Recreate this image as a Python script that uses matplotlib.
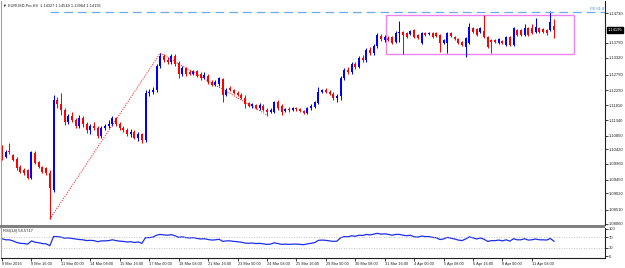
import matplotlib
matplotlib.use("Agg")
import matplotlib.pyplot as plt
from matplotlib.patches import Rectangle

# EURUSD H4 candles, 8 Mar 2016 08:00 .. 12 Apr 2016
opens = [1.1049, 1.1018, 1.1037, 1.1024, 1.1011, 1.0986, 1.0976, 1.0976, 1.0951, 1.1030,
         1.1002, 1.0986, 1.0983, 1.0967, 1.0913, 1.1198, 1.1186, 1.1167, 1.1129, 1.1148,
         1.1135, 1.1116, 1.1141, 1.1122, 1.1103, 1.1116, 1.1110, 1.1084, 1.1110, 1.1116,
         1.1122, 1.1141, 1.1122, 1.1110, 1.1103, 1.1091, 1.1097, 1.1078, 1.1091, 1.1072,
         1.1221, 1.1224, 1.1230, 1.1306, 1.1338, 1.1325, 1.1319, 1.1338, 1.1316, 1.1281,
         1.1300, 1.1287, 1.1281, 1.1290, 1.1281, 1.1268, 1.1274, 1.1255, 1.1246, 1.1249,
         1.1265, 1.1214, 1.1236, 1.1230, 1.1221, 1.1214, 1.1205, 1.1189, 1.1179, 1.1183,
         1.1173, 1.1179, 1.1167, 1.1160, 1.1160, 1.1192, 1.1179, 1.1164, 1.1170, 1.1167,
         1.1173, 1.1170, 1.1164, 1.1157, 1.1173, 1.1176, 1.1189, 1.1224, 1.1230, 1.1224,
         1.1217, 1.1205, 1.1211, 1.1268, 1.1293, 1.1287, 1.1313, 1.1303, 1.1332, 1.1325,
         1.1357, 1.1347, 1.1370, 1.1401, 1.1389, 1.1395, 1.1398, 1.1382, 1.1411, 1.1414,
         1.1411, 1.1408, 1.1420, 1.1404, 1.1379, 1.1411, 1.1408, 1.1411, 1.1411, 1.1404,
         1.1379, 1.1379, 1.1411, 1.1398, 1.1392, 1.1382, 1.1366, 1.1379, 1.1427, 1.1423,
         1.1414, 1.1417, 1.1398, 1.1389, 1.1389, 1.1379, 1.1385, 1.1373, 1.1398, 1.1373,
         1.1420, 1.1420, 1.1404, 1.1427, 1.1427, 1.1414, 1.1427, 1.1423, 1.1420, 1.1420,
         1.14327]
highs = [1.1056, 1.1040, 1.1062, 1.1027, 1.1018, 1.0992, 1.0983, 1.0980, 1.1037, 1.1037,
         1.1005, 1.0989, 1.0986, 1.0976, 1.1214, 1.1208, 1.1221, 1.1173, 1.1154, 1.1160,
         1.1141, 1.1151, 1.1148, 1.1129, 1.1122, 1.1129, 1.1116, 1.1116, 1.1122, 1.1135,
         1.1148, 1.1145, 1.1129, 1.1116, 1.1110, 1.1107, 1.1103, 1.1097, 1.1094, 1.1230,
         1.1233, 1.1240, 1.1313, 1.1347, 1.1344, 1.1335, 1.1344, 1.1344, 1.1322, 1.1306,
         1.1303, 1.1293, 1.1293, 1.1293, 1.1287, 1.1287, 1.1281, 1.1262, 1.1262, 1.1271,
         1.1268, 1.1236, 1.1243, 1.1233, 1.1227, 1.1221, 1.1214, 1.1192, 1.1189, 1.1186,
         1.1189, 1.1186, 1.1173, 1.1173, 1.1195, 1.1198, 1.1186, 1.1173, 1.1176, 1.1176,
         1.1176, 1.1173, 1.1167, 1.1176, 1.1186, 1.1195, 1.1240, 1.1233, 1.1236, 1.1230,
         1.1224, 1.1217, 1.1274, 1.1300, 1.1303, 1.1319, 1.1319, 1.1338, 1.1341, 1.1363,
         1.1366, 1.1376, 1.1411, 1.1408, 1.1404, 1.1401, 1.1401, 1.1417, 1.1449, 1.1417,
         1.1414, 1.1420, 1.1423, 1.1408, 1.1414, 1.1414, 1.1414, 1.1414, 1.1414, 1.1408,
         1.1392, 1.1414, 1.1414, 1.1401, 1.1395, 1.1385, 1.1398, 1.1442, 1.1430, 1.1427,
         1.1430, 1.1468, 1.1401, 1.1392, 1.1392, 1.1395, 1.1389, 1.1401, 1.1401, 1.1430,
         1.1423, 1.1423, 1.1439, 1.1430, 1.1439, 1.1458, 1.1430, 1.1427, 1.1423, 1.1480,
         1.14549]
lows = [1.1008, 1.1014, 1.1027, 1.1005, 1.0976, 1.0967, 1.0961, 1.0948, 1.0948, 1.0996,
        1.0983, 1.0967, 1.0961, 1.0821, 1.0907, 1.1173, 1.1151, 1.1119, 1.1122, 1.1129,
        1.1110, 1.1110, 1.1113, 1.1094, 1.1091, 1.1103, 1.1078, 1.1078, 1.1103, 1.1110,
        1.1116, 1.1116, 1.1103, 1.1097, 1.1084, 1.1081, 1.1075, 1.1068, 1.1062, 1.1065,
        1.1211, 1.1217, 1.1224, 1.1300, 1.1319, 1.1313, 1.1313, 1.1306, 1.1268, 1.1274,
        1.1274, 1.1278, 1.1278, 1.1271, 1.1262, 1.1265, 1.1249, 1.1243, 1.1243, 1.1243,
        1.1192, 1.1211, 1.1227, 1.1217, 1.1211, 1.1202, 1.1173, 1.1176, 1.1173, 1.1170,
        1.1167, 1.1164, 1.1148, 1.1157, 1.1157, 1.1167, 1.1151, 1.1160, 1.1160, 1.1164,
        1.1164, 1.1160, 1.1154, 1.1154, 1.1167, 1.1173, 1.1186, 1.1221, 1.1221, 1.1214,
        1.1198, 1.1192, 1.1198, 1.1262, 1.1281, 1.1281, 1.1297, 1.1300, 1.1319, 1.1319,
        1.1341, 1.1341, 1.1363, 1.1385, 1.1382, 1.1385, 1.1376, 1.1379, 1.1382, 1.1344,
        1.1395, 1.1404, 1.1395, 1.1392, 1.1376, 1.1401, 1.1404, 1.1395, 1.1398, 1.1350,
        1.1376, 1.1347, 1.1398, 1.1389, 1.1376, 1.1370, 1.1335, 1.1376, 1.1411, 1.1401,
        1.1411, 1.1395, 1.1363, 1.1347, 1.1379, 1.1376, 1.1376, 1.1370, 1.1370, 1.1370,
        1.1401, 1.1401, 1.1401, 1.1401, 1.1408, 1.1411, 1.1411, 1.1411, 1.1404, 1.1417,
        1.13964]
closes = [1.1014, 1.1034, 1.1034, 1.1008, 1.0983, 1.0970, 1.0967, 1.0951, 1.1034, 1.0999,
          1.0986, 1.0970, 1.0967, 1.0919, 1.1198, 1.1186, 1.1167, 1.1129, 1.1148, 1.1135,
          1.1116, 1.1141, 1.1122, 1.1103, 1.1116, 1.1110, 1.1084, 1.1110, 1.1116, 1.1122,
          1.1141, 1.1122, 1.1110, 1.1103, 1.1091, 1.1097, 1.1078, 1.1091, 1.1072, 1.1221,
          1.1224, 1.1230, 1.1306, 1.1338, 1.1325, 1.1319, 1.1338, 1.1313, 1.1281, 1.1300,
          1.1281, 1.1281, 1.1290, 1.1274, 1.1268, 1.1278, 1.1255, 1.1246, 1.1255, 1.1268,
          1.1214, 1.1230, 1.1230, 1.1221, 1.1214, 1.1205, 1.1186, 1.1179, 1.1186, 1.1173,
          1.1183, 1.1167, 1.1160, 1.1167, 1.1192, 1.1173, 1.1160, 1.1170, 1.1167, 1.1173,
          1.1170, 1.1164, 1.1157, 1.1173, 1.1179, 1.1192, 1.1224, 1.1230, 1.1224, 1.1217,
          1.1205, 1.1211, 1.1268, 1.1293, 1.1287, 1.1313, 1.1303, 1.1332, 1.1325, 1.1357,
          1.1347, 1.1370, 1.1404, 1.1392, 1.1398, 1.1389, 1.1379, 1.1411, 1.1414, 1.1404,
          1.1398, 1.1417, 1.1398, 1.1395, 1.1411, 1.1404, 1.1411, 1.1398, 1.1401, 1.1379,
          1.1389, 1.1411, 1.1401, 1.1392, 1.1379, 1.1373, 1.1395, 1.1430, 1.1414, 1.1404,
          1.1427, 1.1398, 1.1366, 1.1382, 1.1382, 1.1392, 1.1379, 1.1398, 1.1373, 1.1427,
          1.1404, 1.1404, 1.1427, 1.1404, 1.1411, 1.1430, 1.1414, 1.1414, 1.1411, 1.1446,
          1.14195]

rsi = [64, 60, 60, 56, 50, 47, 46, 44, 56, 51,
       49, 46, 45, 38, 72, 72, 70, 66, 67, 65,
       63, 61, 60, 57, 58, 57, 53, 56, 56, 57,
       60, 57, 55, 54, 52, 53, 50, 52, 47, 68,
       68, 70, 77, 80, 78, 77, 79, 75, 69, 71,
       68, 67, 68, 65, 63, 64, 61, 59, 60, 62,
       54, 56, 56, 54, 53, 51, 48, 47, 48, 46,
       47, 45, 43, 44, 49, 46, 43, 44, 43, 44,
       44, 43, 42, 45, 47, 50, 58, 59, 58, 56,
       54, 55, 67, 72, 71, 75, 73, 77, 76, 80,
       78, 81, 84, 81, 82, 80, 77, 80, 80, 77,
       75, 77, 71, 70, 74, 72, 72, 69, 68, 61,
       63, 69, 66, 63, 59, 57, 63, 71, 67, 63,
       67, 62, 54, 57, 57, 59, 56, 60, 55, 64,
       60, 60, 64, 59, 60, 63, 60, 60, 59, 65,
       54.5717]

price_ticks = [1.1473, 1.1379, 1.1332, 1.1279, 1.1229, 1.1181, 1.1134, 1.1085,
               1.1042, 1.0996, 1.0945, 1.0902, 1.0851, 1.0806]
price_labels = ["1.14730", "1.13790", "1.13320", "1.12790", "1.12290", "1.11810", "1.11340",
                "1.10850", "1.10420", "1.09960", "1.09450", "1.09020", "1.08510", "1.08060"]
time_labels = ["8 Mar 2016", "9 Mar 16:00", "11 Mar 00:00", "14 Mar 08:00", "15 Mar 16:00",
               "17 Mar 00:00", "18 Mar 08:00", "21 Mar 16:00", "23 Mar 00:00", "24 Mar 08:00",
               "25 Mar 16:00", "29 Mar 00:00", "30 Mar 08:00", "31 Mar 16:00", "4 Apr 00:00",
               "5 Apr 08:00", "6 Apr 16:00", "8 Apr 00:00", "11 Apr 08:00"]

# fibo expansion points (bar, price) and 61.8 level, range box
fibo_bars = [13, 43, 72]
fibo_prices = [1.0821, 1.1347, 1.1151]
fe_level = 1.1478
box_bars = (104.3, 155.4)
box_prices = (1.13441, 1.14678)

W, H = 625, 268
fig = plt.figure(figsize=(W / 100, H / 100), dpi=100)
plt.rcParams['font.family'] = ['Liberation Sans', 'DejaVu Sans']
fs = 3.0


def area(x0, y0, x1, y1):
    return [x0 / W, 1 - y1 / H, (x1 - x0) / W, (y1 - y0) / H]


ax = fig.add_axes(area(1, 1, 605, 225))
ax2 = fig.add_axes(area(1, 228, 605, 258))

step, first = 3.68, 2.0
for a in (ax, ax2):
    a.set_xlim((1 - first) / step, (605 - first) / step)
    a.spines['top'].set_visible(False)
    a.spines['left'].set_color('#a0a0a0')
    a.spines['right'].set_color('#202020')
    for s in ('left', 'right', 'bottom'):
        a.spines[s].set_linewidth(0.8)
ax.spines['bottom'].set_visible(False)
ax2.spines['bottom'].set_color('#202020')

ax.set_ylim(1.080206, 1.151214)
ax2.set_ylim(-7.4, 103.7)

n = len(closes)
idx = list(range(n))
cols = ['#0000ff' if c >= o else '#ff0000' for o, c in zip(opens, closes)]
ax.vlines(idx, lows, highs, colors=cols, linewidth=0.75)
heights = [max(abs(c - o), 0.00008) for o, c in zip(opens, closes)]
bottoms = [min(o, c) for o, c in zip(opens, closes)]
ax.bar(idx, heights, bottom=bottoms, width=0.55, color=cols, linewidth=0)

ax.plot(fibo_bars, fibo_prices, color='#ff0000', linestyle=(0, (1, 1.5)), linewidth=0.7)
ax.hlines(fe_level, fibo_bars[0], (605 - first) / step, colors='#6aaaf0',
          linestyles=(0, (7, 4)), linewidth=0.9)
ax.text((604 - first) / step, fe_level + 0.0003, "FE 61.8", color='#3b8fe8',
        fontsize=fs, ha='right', va='bottom')
ax.add_patch(Rectangle((box_bars[0], box_prices[0]), box_bars[1] - box_bars[0],
                       box_prices[1] - box_prices[0], fill=False,
                       edgecolor='#ee82ee', linewidth=1.0))

ax.yaxis.tick_right()
ax.set_yticks(price_ticks)
ax.set_yticklabels(price_labels)
ax.tick_params(axis='y', length=2, width=0.6, pad=1, labelsize=fs, colors='#202020')
ax.set_xticks([])
ax.annotate("1.14195", xy=(1, closes[-1]), xycoords=('axes fraction', 'data'),
            xytext=(2.0, 0), textcoords='offset points', va='center', ha='left',
            fontsize=fs, color='white',
            bbox=dict(boxstyle='square,pad=0.2', fc='black', ec='black'))

fig.text(2 / W, 1 - 5.5 / H, "\u25bc", fontsize=2.6, va='center', ha='left', color='black')
fig.text(8 / W, 1 - 5.5 / H, "EURUSD-Pro,H4  1.14327 1.14549 1.13964 1.14195",
         fontsize=2.8, va='center', ha='left', color='#202020')

# RSI pane
ax2.plot(idx, rsi, color='#1c2fe8', linewidth=0.9)
ax2.axhline(70, color='#b0b0b0', linestyle=(0, (1, 2)), linewidth=0.6)
ax2.axhline(30, color='#b0b0b0', linestyle=(0, (1, 2)), linewidth=0.6)
ax2.text(0.004, 0.97, "RSI(14) 54.5717", transform=ax2.transAxes, fontsize=fs,
         va='top', ha='left', color='#202020')
ax2.yaxis.tick_right()
ax2.set_yticks([100, 70, 30, 0])
ax2.set_yticklabels(["100", "70", "30", "0"])
ax2.tick_params(axis='y', length=2, width=0.6, pad=1, labelsize=fs, colors='#202020')
ax2.set_xticks(list(range(0, 8 * len(time_labels), 8)))
ax2.set_xticklabels(time_labels)
ax2.tick_params(axis='x', length=2, width=0.6, pad=1, labelsize=2.8, colors='#202020')
for lab in ax2.get_xticklabels():
    lab.set_ha('left')

fig.add_artist(Rectangle((0, 1 - 227.5 / H), 605 / W, 2.2 / H, transform=fig.transFigure,
                         facecolor='#808080', edgecolor='none'))

fig.savefig("out.png", dpi=100)
